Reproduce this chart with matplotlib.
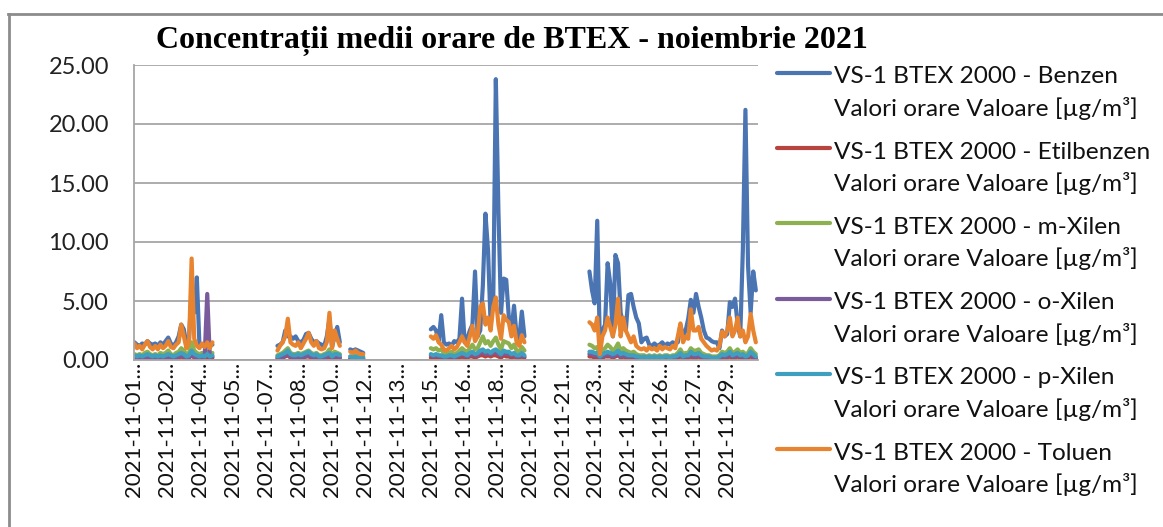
import numpy as np
import matplotlib
matplotlib.use("Agg")
import matplotlib.pyplot as plt
from matplotlib.lines import Line2D

nan = np.nan

# hourly series sampled every 3 hours (8 values per day), Nov 1 .. Nov 30
benzen = [
    1.5, 1.3, 1.2, 1.4, 1.3, 1.6, 1.4, 1.3,
    1.4, 1.2, 1.5, 1.3, 1.6, 1.9, 1.4, 1.2,
    1.5, 2.0, 3.0, 2.6, 1.3, 1.8, 6.0, 4.0,
    7.0, 1.3, 1.2, 1.3, 1.2, 1.4, 1.3, nan,
    nan, nan, nan, nan, nan, nan, nan, nan,
    nan, nan, nan, nan, nan, nan, nan, nan,
    nan, nan, nan, nan, nan, nan, nan, 1.2,
    1.3, 1.5, 2.5, 2.0, 2.0, 1.8, 2.0, 1.6,
    1.5, 1.7, 2.2, 2.3, 1.8, 1.5, 1.6, 1.4,
    1.3, 1.2, 2.0, 3.5, 1.1, 2.0, 2.8, 1.5,
    nan, nan, nan, 0.9, 0.8, 0.9, 0.8, 0.7,
    0.6, nan, nan, nan, nan, nan, nan, nan,
    nan, nan, nan, nan, nan, nan, nan, nan,
    nan, nan, nan, nan, nan, nan, nan, nan,
    nan, nan, 2.6, 2.8, 2.5, 1.6, 3.8, 1.5,
    1.3, 1.4, 1.2, 1.6, 1.5, 1.8, 5.2, 1.5,
    1.8, 2.5, 3.0, 7.5, 2.0, 2.5, 6.3, 12.4,
    9.3, 3.0, 5.0, 23.8, 12.6, 4.0, 6.9, 6.8,
    3.6, 2.5, 4.6, 2.0, 1.8, 4.1, 2.0, nan,
    nan, nan, nan, nan, nan, nan, nan, nan,
    nan, nan, nan, nan, nan, nan, nan, nan,
    nan, nan, nan, nan, nan, nan, nan, 7.5,
    5.9, 4.8, 11.8, 1.5, 2.5, 3.0, 8.2, 6.5,
    2.0, 8.9, 8.2, 4.0, 3.0, 2.5, 5.5, 5.6,
    4.5, 3.6, 3.1, 1.5, 1.8, 1.9, 1.3, 1.2,
    1.4, 1.2, 1.3, 1.5, 1.2, 1.4, 1.3, 1.5,
    1.4, 1.5, 3.0, 2.0, 2.5, 3.5, 5.1, 4.0,
    5.6, 4.5, 3.6, 2.5, 1.9, 1.8, 1.6, 1.5,
    1.5, 1.0, 2.5, 2.0, 2.2, 4.9, 4.5, 5.2,
    3.0, 2.0, 9.3, 21.2, 8.0, 4.0, 7.5, 5.9,
]

etilbenzen = [
    0.2, 0.1, 0.2, 0.1, 0.2, 0.2, 0.2, 0.1,
    0.2, 0.1, 0.2, 0.1, 0.2, 0.2, 0.2, 0.1,
    0.2, 0.2, 0.3, 0.2, 0.1, 0.2, 0.4, 0.2,
    0.2, 0.1, 0.2, 0.1, 0.2, 0.1, 0.2, nan,
    nan, nan, nan, nan, nan, nan, nan, nan,
    nan, nan, nan, nan, nan, nan, nan, nan,
    nan, nan, nan, nan, nan, nan, nan, 0.1,
    0.1, 0.2, 0.3, 0.4, 0.2, 0.2, 0.2, 0.2,
    0.2, 0.2, 0.3, 0.3, 0.2, 0.2, 0.2, 0.1,
    0.1, 0.2, 0.2, 0.3, 0.1, 0.2, 0.2, 0.2,
    nan, nan, nan, 0.1, 0.1, 0.1, 0.1, 0.1,
    0.1, nan, nan, nan, nan, nan, nan, nan,
    nan, nan, nan, nan, nan, nan, nan, nan,
    nan, nan, nan, nan, nan, nan, nan, nan,
    nan, nan, 0.2, 0.2, 0.2, 0.2, 0.2, 0.1,
    0.1, 0.2, 0.2, 0.1, 0.2, 0.2, 0.3, 0.2,
    0.2, 0.3, 0.3, 0.2, 0.3, 0.4, 0.4, 0.3,
    0.4, 0.3, 0.4, 0.4, 0.3, 0.2, 0.4, 0.3,
    0.3, 0.2, 0.3, 0.2, 0.2, 0.3, 0.2, nan,
    nan, nan, nan, nan, nan, nan, nan, nan,
    nan, nan, nan, nan, nan, nan, nan, nan,
    nan, nan, nan, nan, nan, nan, nan, 0.3,
    0.3, 0.2, 0.3, 0.1, 0.2, 0.3, 0.3, 0.3,
    0.2, 0.3, 0.4, 0.2, 0.3, 0.2, 0.2, 0.2,
    0.2, 0.1, 0.1, 0.1, 0.1, 0.1, 0.1, 0.1,
    0.1, 0.1, 0.1, 0.1, 0.1, 0.1, 0.1, 0.1,
    0.1, 0.2, 0.3, 0.2, 0.2, 0.2, 0.3, 0.2,
    0.2, 0.3, 0.2, 0.1, 0.1, 0.1, 0.1, 0.1,
    0.1, 0.1, 0.2, 0.2, 0.2, 0.3, 0.2, 0.2,
    0.3, 0.2, 0.2, 0.2, 0.2, 0.3, 0.2, 0.1,
]

m_xilen = [
    0.5, 0.4, 0.5, 0.4, 0.6, 0.7, 0.5, 0.4,
    0.5, 0.4, 0.6, 0.5, 0.6, 0.8, 0.5, 0.4,
    0.6, 0.7, 1.0, 0.8, 0.5, 0.6, 1.5, 0.8,
    0.6, 0.5, 0.6, 0.5, 0.7, 0.5, 0.6, nan,
    nan, nan, nan, nan, nan, nan, nan, nan,
    nan, nan, nan, nan, nan, nan, nan, nan,
    nan, nan, nan, nan, nan, nan, nan, 0.4,
    0.5, 0.6, 0.8, 1.0, 0.6, 0.5, 0.5, 0.6,
    0.5, 0.6, 0.7, 0.8, 0.6, 0.5, 0.6, 0.4,
    0.4, 0.5, 0.6, 0.9, 0.4, 0.7, 0.6, 0.5,
    nan, nan, nan, 0.3, 0.3, 0.4, 0.3, 0.3,
    0.3, nan, nan, nan, nan, nan, nan, nan,
    nan, nan, nan, nan, nan, nan, nan, nan,
    nan, nan, nan, nan, nan, nan, nan, nan,
    nan, nan, 1.0, 0.9, 1.0, 0.8, 0.9, 0.6,
    0.5, 0.6, 0.7, 0.5, 0.6, 0.8, 1.0, 0.8,
    0.7, 1.0, 1.3, 0.9, 1.0, 1.5, 2.0, 1.4,
    1.6, 1.2, 1.6, 1.9, 1.3, 0.9, 1.6, 1.5,
    1.4, 1.0, 1.3, 0.8, 0.7, 1.1, 0.8, nan,
    nan, nan, nan, nan, nan, nan, nan, nan,
    nan, nan, nan, nan, nan, nan, nan, nan,
    nan, nan, nan, nan, nan, nan, nan, 1.3,
    1.2, 1.0, 1.1, 0.4, 0.8, 1.0, 1.3, 1.1,
    0.8, 1.0, 1.4, 0.8, 1.0, 0.8, 0.7, 0.6,
    0.7, 0.5, 0.4, 0.4, 0.4, 0.3, 0.4, 0.3,
    0.4, 0.3, 0.4, 0.3, 0.4, 0.4, 0.3, 0.4,
    0.4, 0.6, 0.9, 0.5, 0.6, 0.6, 1.0, 0.8,
    0.8, 0.9, 0.6, 0.5, 0.4, 0.4, 0.3, 0.3,
    0.3, 0.4, 0.7, 0.6, 0.7, 1.0, 0.6, 0.7,
    0.9, 0.6, 0.7, 0.5, 0.6, 1.0, 0.7, 0.5,
]

o_xilen = [
    0.2, 0.1, 0.2, 0.2, 0.2, 0.3, 0.2, 0.1,
    0.2, 0.1, 0.2, 0.2, 0.2, 0.3, 0.2, 0.2,
    0.2, 0.3, 0.4, 0.3, 0.2, 0.2, 0.6, 0.3,
    0.2, 0.2, 0.2, 0.2, 5.6, 0.2, 0.3, nan,
    nan, nan, nan, nan, nan, nan, nan, nan,
    nan, nan, nan, nan, nan, nan, nan, nan,
    nan, nan, nan, nan, nan, nan, nan, 0.2,
    0.2, 0.2, 0.4, 0.5, 0.3, 0.2, 0.2, 0.3,
    0.2, 0.3, 0.3, 0.4, 0.3, 0.2, 0.3, 0.2,
    0.2, 0.2, 0.3, 0.4, 0.2, 0.3, 0.3, 0.2,
    nan, nan, nan, 0.1, 0.1, 0.2, 0.1, 0.1,
    0.1, nan, nan, nan, nan, nan, nan, nan,
    nan, nan, nan, nan, nan, nan, nan, nan,
    nan, nan, nan, nan, nan, nan, nan, nan,
    nan, nan, 0.4, 0.3, 0.4, 0.3, 0.3, 0.2,
    0.2, 0.3, 0.3, 0.2, 0.3, 0.4, 0.5, 0.4,
    0.3, 0.4, 0.5, 0.4, 0.4, 0.6, 0.7, 0.5,
    0.6, 0.5, 0.6, 0.7, 0.5, 0.4, 0.6, 0.5,
    0.5, 0.4, 0.5, 0.3, 0.3, 0.4, 0.3, nan,
    nan, nan, nan, nan, nan, nan, nan, nan,
    nan, nan, nan, nan, nan, nan, nan, nan,
    nan, nan, nan, nan, nan, nan, nan, 0.5,
    0.5, 0.4, 0.5, 0.2, 0.3, 0.4, 0.5, 0.4,
    0.3, 0.4, 0.6, 0.3, 0.4, 0.3, 0.3, 0.3,
    0.3, 0.2, 0.2, 0.2, 0.2, 0.1, 0.2, 0.1,
    0.2, 0.1, 0.2, 0.1, 0.2, 0.2, 0.1, 0.2,
    0.2, 0.3, 0.4, 0.2, 0.3, 0.3, 0.5, 0.3,
    0.3, 0.4, 0.3, 0.2, 0.2, 0.2, 0.1, 0.1,
    0.1, 0.2, 0.3, 0.3, 0.3, 0.5, 0.3, 0.3,
    0.4, 0.3, 0.3, 0.2, 0.3, 0.5, 0.3, 0.2,
]

p_xilen = [
    0.4, 0.3, 0.4, 0.3, 0.4, 0.5, 0.4, 0.3,
    0.4, 0.3, 0.4, 0.3, 0.4, 0.5, 0.4, 0.3,
    0.4, 0.5, 0.6, 0.5, 0.3, 0.4, 0.8, 0.5,
    0.4, 0.3, 0.4, 0.3, 0.5, 0.3, 0.4, nan,
    nan, nan, nan, nan, nan, nan, nan, nan,
    nan, nan, nan, nan, nan, nan, nan, nan,
    nan, nan, nan, nan, nan, nan, nan, 0.3,
    0.4, 0.5, 0.6, 0.8, 0.5, 0.4, 0.4, 0.5,
    0.4, 0.5, 0.6, 0.7, 0.5, 0.4, 0.5, 0.3,
    0.3, 0.4, 0.5, 0.6, 0.3, 0.5, 0.5, 0.4,
    nan, nan, nan, 0.3, 0.2, 0.3, 0.2, 0.2,
    0.2, nan, nan, nan, nan, nan, nan, nan,
    nan, nan, nan, nan, nan, nan, nan, nan,
    nan, nan, nan, nan, nan, nan, nan, nan,
    nan, nan, 0.5, 0.4, 0.5, 0.4, 0.4, 0.3,
    0.3, 0.4, 0.4, 0.3, 0.4, 0.5, 0.6, 0.5,
    0.4, 0.6, 0.7, 0.5, 0.6, 0.8, 0.9, 0.7,
    0.8, 0.6, 0.8, 0.9, 0.7, 0.5, 0.8, 0.7,
    0.7, 0.5, 0.6, 0.4, 0.4, 0.6, 0.4, nan,
    nan, nan, nan, nan, nan, nan, nan, nan,
    nan, nan, nan, nan, nan, nan, nan, nan,
    nan, nan, nan, nan, nan, nan, nan, 0.7,
    0.7, 0.6, 0.6, 0.3, 0.5, 0.6, 0.7, 0.6,
    0.5, 0.6, 0.8, 0.5, 0.6, 0.5, 0.4, 0.4,
    0.4, 0.3, 0.3, 0.2, 0.3, 0.2, 0.3, 0.2,
    0.3, 0.2, 0.3, 0.2, 0.3, 0.3, 0.2, 0.3,
    0.3, 0.4, 0.6, 0.3, 0.4, 0.4, 0.7, 0.5,
    0.5, 0.6, 0.4, 0.3, 0.3, 0.3, 0.2, 0.2,
    0.2, 0.3, 0.5, 0.4, 0.5, 0.7, 0.4, 0.5,
    0.6, 0.4, 0.5, 0.3, 0.4, 0.7, 0.5, 0.3,
]

toluen = [
    1.4, 1.0, 1.2, 0.9, 1.3, 1.6, 1.1, 0.9,
    1.2, 0.9, 1.3, 1.0, 1.2, 1.6, 1.1, 1.0,
    1.3, 1.5, 3.0, 2.0, 1.0, 1.5, 8.6, 1.8,
    1.2, 1.0, 1.4, 1.1, 1.5, 1.0, 1.5, nan,
    nan, nan, nan, nan, nan, nan, nan, nan,
    nan, nan, nan, nan, nan, nan, nan, nan,
    nan, nan, nan, nan, nan, nan, nan, 0.8,
    1.2, 1.5, 2.0, 3.5, 1.5, 1.3, 1.2, 1.5,
    1.0, 1.4, 1.8, 2.3, 1.5, 1.2, 1.6, 1.0,
    0.9, 1.0, 1.5, 4.0, 1.0, 2.5, 1.8, 1.2,
    nan, nan, nan, 0.7, 0.6, 0.8, 0.6, 0.5,
    0.5, nan, nan, nan, nan, nan, nan, nan,
    nan, nan, nan, nan, nan, nan, nan, nan,
    nan, nan, nan, nan, nan, nan, nan, nan,
    nan, nan, 2.0, 1.8, 2.1, 1.5, 1.3, 0.9,
    0.8, 1.0, 1.2, 0.9, 1.1, 1.5, 2.0, 1.5,
    1.2, 2.0, 2.9, 1.6, 2.0, 4.5, 4.8, 3.0,
    3.6, 2.5, 4.5, 5.3, 3.0, 1.8, 3.8, 3.4,
    3.2, 2.0, 2.9, 1.5, 1.2, 2.1, 1.5, nan,
    nan, nan, nan, nan, nan, nan, nan, nan,
    nan, nan, nan, nan, nan, nan, nan, nan,
    nan, nan, nan, nan, nan, nan, nan, 3.2,
    3.0, 2.5, 3.6, 0.5, 2.0, 2.5, 3.6, 2.8,
    2.0, 3.0, 5.2, 2.0, 3.6, 2.5, 2.0, 1.5,
    2.0, 1.2, 1.0, 0.9, 1.0, 0.8, 1.1, 0.9,
    1.0, 0.8, 1.2, 0.9, 1.1, 1.0, 0.9, 1.2,
    1.0, 2.0, 3.1, 1.5, 2.0, 1.8, 4.3, 2.5,
    2.5, 2.8, 1.8, 1.5, 1.2, 1.0, 0.8, 0.9,
    0.8, 1.2, 2.4, 2.0, 2.5, 3.6, 2.0, 2.5,
    3.6, 2.0, 2.5, 1.5, 2.0, 3.9, 2.5, 1.5,
]

series_names = ["Benzen", "Etilbenzen", "m-Xilen", "o-Xilen", "p-Xilen", "Toluen"]
series_values = [benzen, etilbenzen, m_xilen, o_xilen, p_xilen, toluen]
colors = ["#4a74b2", "#b8443f", "#8db14f", "#7a5c9c", "#3f9fbf", "#e8832f"]

tick_labels = ["2021-11-01", "2021-11-02", "2021-11-04", "2021-11-05", "2021-11-07",
               "2021-11-08", "2021-11-10", "2021-11-12", "2021-11-13", "2021-11-15",
               "2021-11-16", "2021-11-18", "2021-11-20", "2021-11-21", "2021-11-23",
               "2021-11-24", "2021-11-26", "2021-11-27", "2021-11-29"]

n_hours = 720
step_h = 3        # one stored value every 3 hours
label_every = 38  # excel category label interval (hours)

W, H = 1163, 527
fig = plt.figure(figsize=(W / 100, H / 100), dpi=100)
ax = fig.add_axes([134 / W, 1 - 360 / H, (758 - 134) / W, (360 - 65) / H])

hours = np.arange(len(benzen)) * step_h
for name, vals, col in zip(series_names, series_values, colors):
    ax.plot(hours, np.array(vals, dtype=float), color=col, lw=3.0,
            solid_joinstyle="round", solid_capstyle="round")

ax.set_xlim(-0.5, n_hours - 0.5)
ax.set_ylim(0, 25)
ax.set_yticks(np.arange(0, 26, 5))
ax.set_yticklabels([f"{v:.2f}" for v in np.arange(0, 26, 5)],
                   fontname="Lato", fontsize=17, color="#222222")
ax.set_xticks(np.arange(0, n_hours, label_every))
ax.set_xticklabels([t + "..." for t in tick_labels], rotation=90,
                   fontname="Lato", fontsize=16, color="#111111")
ax.tick_params(axis="y", length=0, pad=18)
ax.tick_params(axis="x", length=0, pad=1.5)

ax.yaxis.grid(True, color="#a6a6a6", lw=1.3)
ax.set_axisbelow(True)
for s in ["top", "right"]:
    ax.spines[s].set_visible(False)
for s in ["left", "bottom"]:
    ax.spines[s].set_color("#a6a6a6")
    ax.spines[s].set_linewidth(1.3)

fig.text(512 / W, 1 - 47.5 / H, "Concentrații medii orare de BTEX - noiembrie 2021",
         fontname="Liberation Serif", fontweight="bold", fontsize=23,
         ha="center", va="baseline")

# legend drawn like excel: handle aligned with first text line
for i, (name, col) in enumerate(zip(series_names, colors)):
    y = 72.7 + 75.3 * i
    fig.add_artist(Line2D([777 / W, 830 / W], [1 - y / H, 1 - y / H], color=col,
                          lw=3, solid_capstyle="round", transform=fig.transFigure))
    fig.text(834 / W, 1 - (y + 10.6) / H, f"VS-1 BTEX 2000 - {name}",
             fontname="Lato", fontsize=17.6, color="#111111", va="baseline")
    fig.text(834 / W, 1 - (y + 43) / H, "Valori orare Valoare [µg/m³]",
             fontname="Lato", fontsize=17.6, color="#111111", va="baseline")

# chart area border (only top and left edges are visible in the crop)
fig.add_artist(Line2D([8 / W, 1], [1 - 14 / H, 1 - 14 / H], color="#8c8c8c", lw=2,
                      transform=fig.transFigure))
fig.add_artist(Line2D([9 / W, 9 / W], [0, 1 - 14 / H], color="#8c8c8c", lw=2,
                      transform=fig.transFigure))

fig.savefig("out.png", dpi=100)
